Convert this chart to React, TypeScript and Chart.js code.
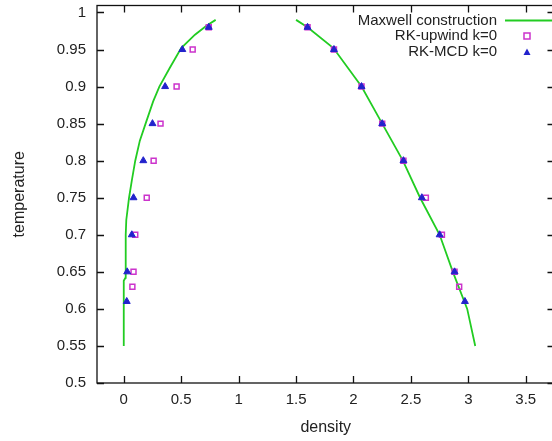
import { useEffect, useRef } from "react";
import { Chart, registerables } from "chart.js";

Chart.register(...registerables);

// Maxwell construction: gas branch and liquid branch of the coexistence curve
const gasBranchDensity = [0.0, 0.0, 0.0, 0.015, 0.017, 0.022, 0.046, 0.07, 0.1, 0.14, 0.19, 0.256, 0.31, 0.4, 0.5, 0.62, 0.72, 0.8];
const gasBranchTemp = [0.55, 0.6, 0.638, 0.642, 0.7, 0.72, 0.75, 0.773, 0.8, 0.827, 0.85, 0.88, 0.9, 0.925, 0.952, 0.97, 0.982, 0.99];
const liquidBranchDensity = [1.5, 1.6, 1.825, 2.07, 2.25, 2.43, 2.58, 2.75, 2.865, 2.99, 3.06];
const liquidBranchTemp = [0.99, 0.98, 0.952, 0.9, 0.85, 0.8, 0.75, 0.7, 0.65, 0.6, 0.55];

// RK-upwind, k=0
const upwindTemp = [0.98, 0.95, 0.9, 0.85, 0.8, 0.75, 0.7, 0.65, 0.63];
const upwindGas = [0.74, 0.6, 0.46, 0.32, 0.26, 0.2, 0.1, 0.085, 0.075];
const upwindLiquid = [1.6, 1.83, 2.07, 2.25, 2.435, 2.63, 2.77, 2.88, 2.92];

// RK-MCD, k=0
const mcdTemp = [0.98, 0.95, 0.9, 0.85, 0.8, 0.75, 0.7, 0.65, 0.61];
const mcdGas = [0.74, 0.51, 0.36, 0.25, 0.17, 0.085, 0.07, 0.03, 0.026];
const mcdLiquid = [1.6, 1.83, 2.07, 2.25, 2.435, 2.595, 2.75, 2.88, 2.97];

const seriesLabels = ["Maxwell construction", "RK-upwind k=0", "RK-MCD k=0"];

const GREEN = "#22cc22";
const MAGENTA = "#cc33cc";
const BLUE = "#2222cc";
const FONT = "'Liberation Sans', Arial, sans-serif";

const pair = (xs: number[], ys: number[]) => xs.map((x, i) => ({ x, y: ys[i] }));

const curvePoints = [
  ...pair(gasBranchDensity, gasBranchTemp),
  { x: 1.15, y: null as any },
  ...pair(liquidBranchDensity, liquidBranchTemp),
];
const upwindPoints = [...pair(upwindGas, upwindTemp), ...pair(upwindLiquid, upwindTemp)];
const mcdPoints = [...pair(mcdGas, mcdTemp), ...pair(mcdLiquid, mcdTemp)];

const fmt = (v: number) => String(parseFloat(Number(v).toFixed(2)));

// Closed frame with inward tick marks on all four sides, plus the key
const framePlugin = {
  id: "gnuFrame",
  afterDraw(chart: any) {
    const { ctx, chartArea: a, scales } = chart;
    const L = 7;
    ctx.save();
    ctx.strokeStyle = "#111";
    ctx.lineWidth = 1.3;
    ctx.strokeRect(a.left, a.top, a.right - a.left, a.bottom - a.top);
    ctx.beginPath();
    for (const t of scales.x.ticks) {
      const px = Math.round(scales.x.getPixelForValue(t.value)) + 0.5;
      ctx.moveTo(px, a.bottom);
      ctx.lineTo(px, a.bottom - L);
      ctx.moveTo(px, a.top);
      ctx.lineTo(px, a.top + L);
    }
    for (const t of scales.y.ticks) {
      const py = Math.round(scales.y.getPixelForValue(t.value)) + 0.5;
      ctx.moveTo(a.left, py);
      ctx.lineTo(a.left + L, py);
      ctx.moveTo(a.right, py);
      ctx.lineTo(a.right - L, py);
    }
    ctx.stroke();

    // key, top right inside the frame
    const rowsY = [20.5, 36, 52];
    const textRight = 497;
    const sampleX = 527;
    ctx.font = `15px ${FONT}`;
    ctx.textAlign = "right";
    ctx.textBaseline = "middle";
    ctx.fillStyle = "#222";
    chart.data.datasets.forEach((ds: any, i: number) => {
      const y = rowsY[i];
      ctx.fillText(ds.label, textRight, y);
      if (ds.showLine) {
        ctx.strokeStyle = ds.borderColor;
        ctx.lineWidth = ds.borderWidth;
        ctx.beginPath();
        ctx.moveTo(505, y);
        ctx.lineTo(556, y);
        ctx.stroke();
      } else if (ds.pointStyle === "rect") {
        ctx.strokeStyle = ds.borderColor;
        ctx.lineWidth = ds.borderWidth;
        ctx.strokeRect(sampleX - 3, y - 3, 6, 6);
      } else {
        ctx.fillStyle = ds.backgroundColor;
        ctx.beginPath();
        ctx.moveTo(sampleX, y - 3.5);
        ctx.lineTo(sampleX + 3.5, y + 3);
        ctx.lineTo(sampleX - 3.5, y + 3);
        ctx.closePath();
        ctx.fill();
        ctx.fillStyle = "#222";
      }
    });
    ctx.restore();
  },
};

export default function App() {
  const canvasRef = useRef<HTMLCanvasElement>(null);

  useEffect(() => {
    document.body.style.margin = "0";
    const canvas = canvasRef.current;
    if (!canvas) return;
    const chart = new Chart(canvas, {
      type: "scatter",
      data: {
        datasets: [
          {
            label: seriesLabels[0],
            data: curvePoints,
            showLine: true,
            spanGaps: false,
            borderColor: GREEN,
            backgroundColor: GREEN,
            borderWidth: 1.8,
            pointRadius: 0,
            order: 3,
          },
          {
            label: seriesLabels[1],
            data: upwindPoints,
            showLine: false,
            pointStyle: "rect",
            pointRadius: 3.5,
            borderColor: MAGENTA,
            backgroundColor: "rgba(255,255,255,0)",
            borderWidth: 1.5,
            order: 2,
          },
          {
            label: seriesLabels[2],
            data: mcdPoints,
            showLine: false,
            pointStyle: "triangle",
            pointRadius: 4,
            borderColor: BLUE,
            backgroundColor: BLUE,
            borderWidth: 1,
            order: 1,
          },
        ] as any,
      },
      options: {
        responsive: false,
        animation: false,
        devicePixelRatio: 1,
        layout: { padding: { top: 4, right: 2, left: 0, bottom: 0 } },
        plugins: {
          legend: { display: false },
          tooltip: { enabled: false },
        },
        scales: {
          x: {
            type: "linear",
            min: -0.233,
            max: 3.75,
            grid: { display: false, drawTicks: false },
            border: { display: false },
            ticks: {
              stepSize: 0.5,
              includeBounds: false,
              autoSkip: false,
              maxRotation: 0,
              padding: 8,
              color: "#222",
              font: { family: FONT, size: 15 },
              callback: (v: any) => fmt(v),
            },
            title: {
              display: true,
              text: "density",
              color: "#222",
              font: { family: FONT, size: 16 },
              padding: { top: 0, bottom: 3.4 },
            },
            afterFit: (s: any) => {
              s.height = 58;
              s.paddingLeft = 0;
              s.paddingRight = 0;
            },
          },
          y: {
            type: "linear",
            min: 0.5,
            max: 1.0094,
            grid: { display: false, drawTicks: false },
            border: { display: false },
            ticks: {
              stepSize: 0.05,
              includeBounds: false,
              autoSkip: false,
              padding: 11,
              color: "#222",
              font: { family: FONT, size: 15 },
              callback: (v: any) => fmt(v),
            },
            title: {
              display: true,
              text: "temperature",
              color: "#222",
              font: { family: FONT, size: 16 },
              padding: { top: 10.4, bottom: 0 },
            },
            afterFit: (s: any) => {
              s.width = 97;
              s.paddingTop = 0;
              s.paddingBottom = 0;
            },
          },
        },
      },
      plugins: [framePlugin],
    });
    return () => chart.destroy();
  }, []);

  return (
    <div style={{ position: "fixed", left: 0, top: 0, width: 552, height: 441, overflow: "hidden", background: "#fff" }}>
      <canvas ref={canvasRef} width={560} height={441} style={{ width: 560, height: 441, display: "block" }} />
    </div>
  );
}
